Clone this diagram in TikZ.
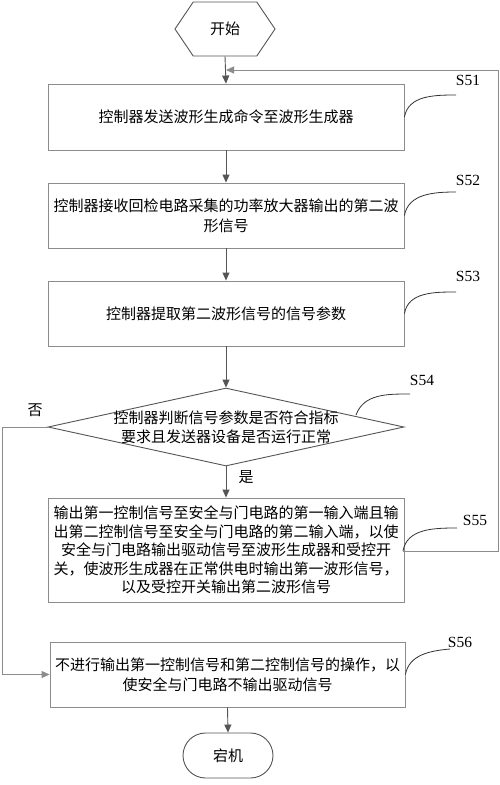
\documentclass[tikz,border=0pt]{standalone}
\usepackage{fontspec}
\setmainfont{Liberation Serif}
\newfontfamily\cjk{Noto Sans CJK SC}
\usetikzlibrary{shapes.geometric,shapes.symbols,shapes.misc,arrows.meta}
\definecolor{boxc}{HTML}{8C8C8C}
\definecolor{linec}{HTML}{555555}
\tikzset{
  stepbox/.style={draw=boxc, line width=0.9, minimum width=356, minimum height=65, inner sep=0, align=center, font=\cjk\fontsize{15}{20}\selectfont},
  flow/.style={draw=linec, line width=0.9, -{Triangle[length=8,width=7]}},
  plain/.style={draw=boxc, line width=0.9},
  steplabel/.style={font=\fontsize{15.5}{15.5}\selectfont, inner sep=0},
  leader/.style={draw=black!80, line width=0.8},
  cjklabel/.style={font=\cjk\fontsize{15}{15}\selectfont, inner sep=0}
}
\begin{document}
\begin{tikzpicture}[x=1pt,y=-1pt]
\useasboundingbox (0,0) rectangle (500,785);
\fill[white] (0,0) rectangle (500,785);

\node[signal, signal to=east and west, signal pointer angle=112, draw=linec, line width=0.9, minimum width=100, minimum height=54, inner sep=0, cjklabel] (start) at (225,29) {开始};

\node[stepbox, minimum height=66] (s51) at (226,117) {控制器发送波形生成命令至波形生成器};
\node[stepbox] (s52) at (226,215.5) {控制器接收回检电路采集的功率放大器输出的第二波\\形信号};
\node[stepbox] (s53) at (226,313.5) {控制器提取第二波形信号的信号参数};
\node[diamond, draw=linec, line width=0.9, minimum width=356, minimum height=78, inner sep=0] (s54) at (226,427) {};
\node[align=center, inner sep=0, font=\cjk\fontsize{15}{19}\selectfont] (s54t) at (226,427) {控制器判断信号参数是否符合指标\\要求且发送器设备是否运行正常};
\node[stepbox, minimum height=104, font=\cjk\fontsize{15}{18.5}\selectfont] (s55) at (226,550) {输出第一控制信号至安全与门电路的第一输入端且输\\出第二控制信号至安全与门电路的第二输入端，以使\\安全与门电路输出驱动信号至波形生成器和受控开\\关，使波形生成器在正常供电时输出第一波形信号，\\以及受控开关输出第二波形信号};
\node[stepbox, minimum width=355] (s56) at (227.5,674.5) {不进行输出第一控制信号和第二控制信号的操作，以\\使安全与门电路不输出驱动信号};
\node[rounded rectangle, draw=linec, line width=0.9, minimum width=90, minimum height=45, inner sep=0, cjklabel] (end) at (228,755.5) {宕机};

% labels
\node[steplabel] (l51) at (468,80) {S51};
\node[steplabel] (l52) at (468,180) {S52};
\node[steplabel] (l53) at (468,276) {S53};
\node[steplabel] (l54) at (422,380) {S54};
\node[steplabel] (l55) at (475,520) {S55};
\node[steplabel] (l56) at (460,642) {S56};
\node[cjklabel] (no) at (35,410) {否};
\node[cjklabel] (yes) at (246,477) {是};

% leader curves
\coordinate (c51) at (456,95);
\coordinate (c52) at (456,192);
\coordinate (c53) at (456,292);
\coordinate (c54a) at (356,415);
\coordinate (c54) at (410,394);
\coordinate (c55) at (457,528);
\coordinate (c56) at (450,649);
\draw[leader] (s51.east) to[out=80,in=180] (c51);
\draw[leader] (s52.east) to[out=80,in=180] (c52);
\draw[leader] (s53.east) to[out=80,in=180] (c53);
\draw[leader] (c54a) to[out=70,in=180] (c54);
\draw[leader] (403,551) to[out=80,in=180] (c55);
\draw[leader] (s56.east) to[out=80,in=185] (c56);

% connectors
\coordinate (j) at (226,70);
\coordinate (fbr) at (498,70);
\draw[flow] (start.south) -- (s51.north);
\draw[flow] (s51.south) -- (s52.north);
\draw[flow] (s52.south) -- (s53.north);
\draw[flow] (s53.south) -- (s54.north);
\draw[flow] (s54.south) -- (s55.north);
\draw[flow] (s56.south) -- (end.north);
\coordinate (s55r) at (403,551);
\draw[plain] (s55r) -| (fbr);
\draw[flow, draw=boxc] (fbr) -- (j);
\coordinate (noc) at (2,427);
\draw[plain] (s54.west) -- (noc);
\draw[flow, draw=boxc] (noc) |- (s56.west);
\end{tikzpicture}
\end{document}
